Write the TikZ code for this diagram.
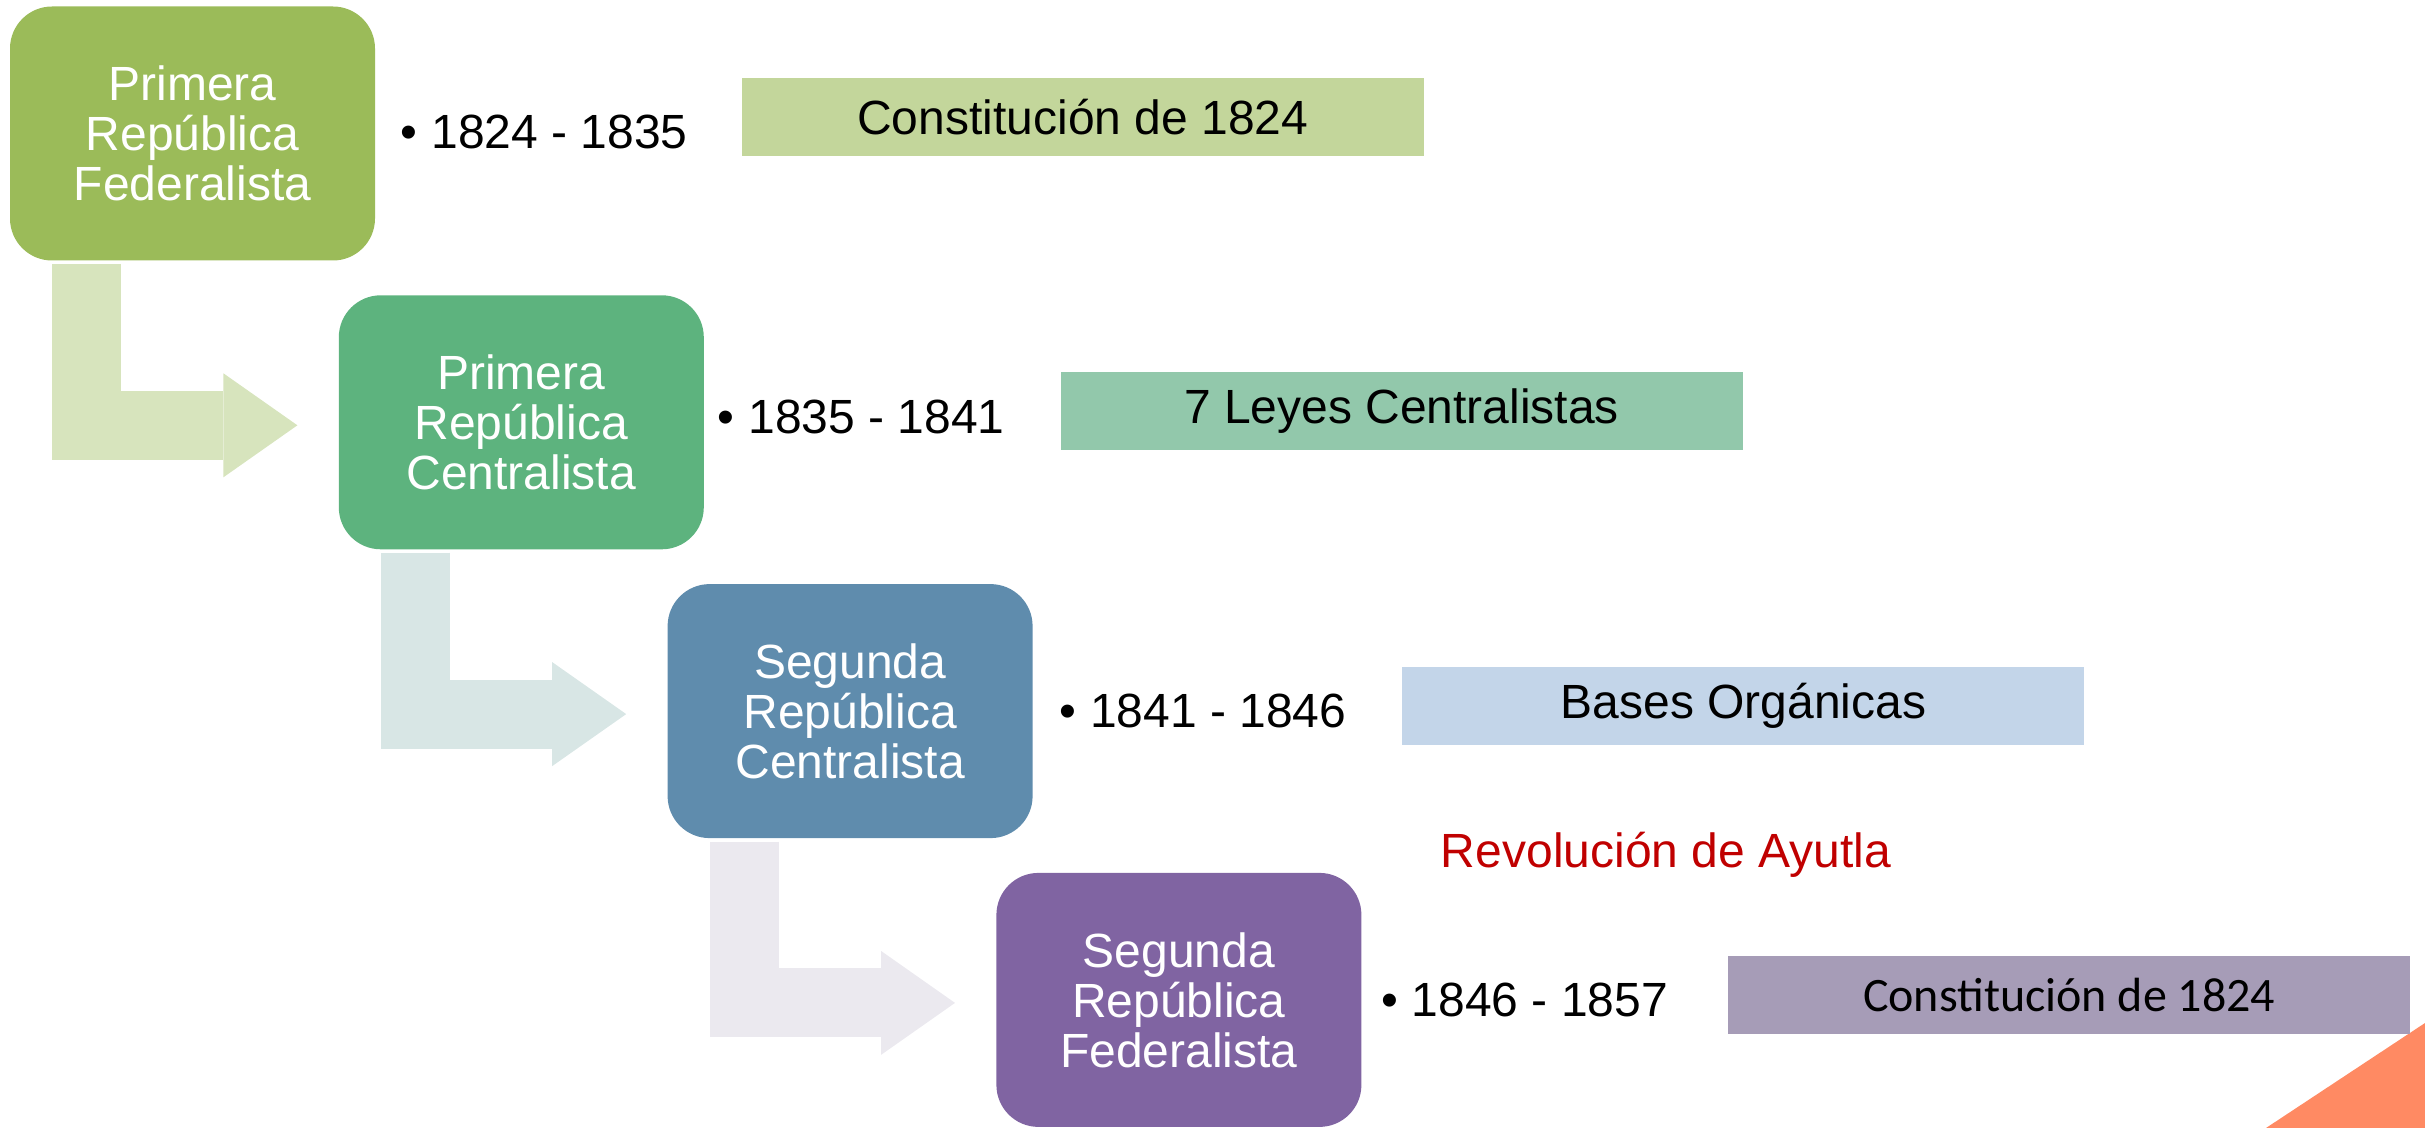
\documentclass[tikz,border=0pt]{standalone}
\usepackage{fontspec}
\setmainfont{Liberation Sans}
\newfontfamily\calibri{Carlito}
\usetikzlibrary{positioning,arrows.meta}

\definecolor{fedA}{HTML}{9BBB59}
\definecolor{cenA}{HTML}{5DB37E}
\definecolor{cenB}{HTML}{5F8CAD}
\definecolor{fedB}{HTML}{8064A2}
\definecolor{lawA}{HTML}{C3D69B}
\definecolor{lawB}{HTML}{92C8AB}
\definecolor{lawC}{HTML}{C3D5E9}
\definecolor{lawD}{HTML}{A69CB7}
\definecolor{arrowA}{HTML}{D7E4BD}
\definecolor{arrowB}{HTML}{D8E6E5}
\definecolor{arrowC}{HTML}{EBE9EF}
\definecolor{ayutlaRed}{HTML}{C00000}
\definecolor{cornerOrange}{HTML}{FF8A63}

\begin{document}
\begin{tikzpicture}[
        era/.style={rectangle, rounded corners=21pt, fill=#1, text=white, align=center, minimum width=182.5pt, minimum height=127pt, inner sep=0pt, font=\fontsize{24}{25}\selectfont},
        period/.style={inner sep=0pt, font=\fontsize{24}{28}\selectfont},
        law/.style={rectangle, fill=#1, minimum width=341pt, minimum height=39pt, inner sep=0pt, font=\fontsize{24}{28}\selectfont},
        flow/.style={draw=#1, line width=34.5pt, -{Triangle[length=37pt,width=52pt,line width=0pt]}}
    ]
    \useasboundingbox (0pt,0pt) rectangle (1212.5pt,-564pt);
    \fill[cornerOrange] (1133pt,-564pt) -- (1212.5pt,-511.5pt) -- (1212.5pt,-564pt) -- cycle;

    \node[era=fedA] (fed1) at (96.25pt,-66.75pt) {Primera\\República\\Federalista};
    \node[era=cenA, below right=17pt and -18.5pt of fed1] (cen1) {Primera\\República\\Centralista};
    \node[era=cenB, below right=17pt and -18.5pt of cen1] (cen2) {Segunda\\República\\Centralista};
    \node[era=fedB, below right=17pt and -18.5pt of cen2] (fed2) {Segunda\\República\\Federalista};

    \node[period, right=12.4pt of fed1, yshift=1pt] (y1824) {\textbullet\hspace{7pt}1824 - 1835};
    \node[period, right=6.5pt of cen1, yshift=2.75pt] (y1835) {\textbullet\hspace{7pt}1835 - 1841};
    \node[period, right=13pt of cen2] (y1841) {\textbullet\hspace{7pt}1841 - 1846};
    \node[period, right=9.4pt of fed2] (y1846) {\textbullet\hspace{7pt}1846 - 1857};

    \node[law=lawA, right=183pt of fed1, yshift=8.25pt] (const1) {Constitución de 1824};
    \node[law=lawB, right=178pt of cen1, yshift=5.5pt] (leyes) {7 Leyes Centralistas};
    \node[law=lawC, right=184.5pt of cen2, yshift=2.5pt] (bases) {Bases Orgánicas};
    \node[law=lawD, right=183pt of fed2, yshift=2.5pt, font=\calibri\fontsize{24}{28}\selectfont] (const2) {Constitución de 1824};

    \node[anchor=base, inner sep=0pt, text=ayutlaRed, font=\fontsize{24}{28}\selectfont] (ayutla) at (833pt,-433.5pt) {Revolución de Ayutla};

    \draw[flow=arrowA] ([xshift=38.5pt,yshift=-1.5pt]fed1.south west) |- ([xshift=-20.5pt,yshift=-1.5pt]cen1.west);
    \draw[flow=arrowB] ([xshift=38.5pt,yshift=-1.5pt]cen1.south west) |- ([xshift=-20.5pt,yshift=-1.5pt]cen2.west);
    \draw[flow=arrowC] ([xshift=38.5pt,yshift=-1.5pt]cen2.south west) |- ([xshift=-20.5pt,yshift=-1.5pt]fed2.west);
\end{tikzpicture}
\end{document}
